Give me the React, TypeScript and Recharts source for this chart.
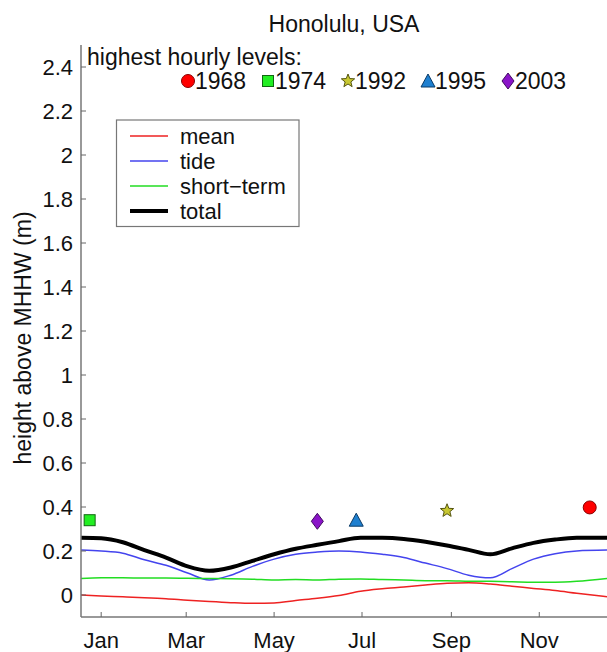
import React from "react";
import {
  ComposedChart,
  Line,
  Scatter,
  XAxis,
  YAxis,
} from "recharts";

// day of year samples
const days = [1, 15, 30, 45, 60, 75, 90, 105, 120, 135, 150, 165, 180, 195, 210, 225, 240, 255, 270, 285, 300, 315, 330, 345, 366];
const meanLevel = [0, -0.004, -0.008, -0.012, -0.017, -0.024, -0.03, -0.035, -0.038, -0.036, -0.025, -0.015, -0.002, 0.017, 0.028, 0.036, 0.045, 0.053, 0.056, 0.05, 0.04, 0.03, 0.02, 0.008, -0.008];
const tideLevel = [0.204, 0.2, 0.19, 0.16, 0.135, 0.1, 0.068, 0.09, 0.13, 0.163, 0.185, 0.195, 0.2, 0.196, 0.185, 0.17, 0.145, 0.12, 0.09, 0.078, 0.12, 0.163, 0.188, 0.2, 0.204];
const shortTerm = [0.075, 0.078, 0.078, 0.077, 0.077, 0.076, 0.075, 0.074, 0.072, 0.068, 0.07, 0.068, 0.072, 0.073, 0.07, 0.068, 0.065, 0.065, 0.063, 0.062, 0.06, 0.058, 0.058, 0.062, 0.075];
const totalLevel = [0.26, 0.258, 0.24, 0.204, 0.17, 0.13, 0.11, 0.125, 0.155, 0.185, 0.21, 0.228, 0.245, 0.26, 0.26, 0.255, 0.242, 0.225, 0.205, 0.185, 0.212, 0.237, 0.252, 0.26, 0.26];

// highest hourly levels
const eventYears = ["1968", "1974", "1992", "1995", "2003"];
const eventDays = [354, 7, 255, 192, 165];
const eventLevels = [0.398, 0.34, 0.383, 0.34, 0.335];

const monthTicks = [15, 74, 135, 196, 258, 319];
const monthLabels = ["Jan", "Mar", "May", "Jul", "Sep", "Nov"];
const yTicks = [0, 0.2, 0.4, 0.6, 0.8, 1, 1.2, 1.4, 1.6, 1.8, 2, 2.2, 2.4];

const FONT = "'Liberation Sans', Arial, Helvetica, sans-serif";

const markerStyle: Record<string, { fill: string; stroke: string; kind: string }> = {
  "1968": { fill: "#ff0000", stroke: "#8a0000", kind: "circle" },
  "1974": { fill: "#22ee22", stroke: "#116611", kind: "square" },
  "1992": { fill: "#c8c832", stroke: "#555511", kind: "star" },
  "1995": { fill: "#1f80d0", stroke: "#0b3a66", kind: "triangle" },
  "2003": { fill: "#8a14c8", stroke: "#3f0a5e", kind: "diamond" },
};

function Marker({ kind, cx, cy, fill, stroke }: any) {
  if (kind === "circle") return <circle cx={cx} cy={cy} r={6.5} fill={fill} stroke={stroke} strokeWidth={1} />;
  if (kind === "square") return <rect x={cx - 5.5} y={cy - 5.5} width={11} height={11} fill={fill} stroke={stroke} strokeWidth={1} />;
  if (kind === "triangle")
    return <polygon points={`${cx},${cy - 7} ${cx + 7},${cy + 6} ${cx - 7},${cy + 6}`} fill={fill} stroke={stroke} strokeWidth={1} />;
  if (kind === "diamond")
    return <polygon points={`${cx},${cy - 8} ${cx + 6},${cy} ${cx},${cy + 8} ${cx - 6},${cy}`} fill={fill} stroke={stroke} strokeWidth={1} />;
  const pts: string[] = [];
  for (let i = 0; i < 10; i++) {
    const r = i % 2 === 0 ? 7 : 3;
    const a = -Math.PI / 2 + (i * Math.PI) / 5;
    pts.push(`${cx + r * Math.cos(a)},${cy + r * Math.sin(a)}`);
  }
  return <polygon points={pts.join(" ")} fill={fill} stroke={stroke} strokeWidth={1} />;
}

const lineData = days.map((d, i) => ({
  day: d,
  mean: meanLevel[i],
  tide: tideLevel[i],
  short: shortTerm[i],
  total: totalLevel[i],
}));

const eventData = eventYears.map((y, i) => ({ year: y, day: eventDays[i], level: eventLevels[i] }));

const YTick = (props: any) => {
  const { x, y, payload } = props;
  return (
    <g>
      <line x1={x} y1={y} x2={x + 5} y2={y} stroke="#666" />
      <text x={x - 8} y={y} dy={8} textAnchor="end" fontSize={22} fontFamily={FONT} fill="#111">
        {payload.value}
      </text>
    </g>
  );
};

const XTick = (props: any) => {
  const { x, y, payload } = props;
  const idx = monthTicks.indexOf(payload.value);
  return (
    <g>
      <line x1={x} y1={y} x2={x} y2={y - 5} stroke="#666" />
      <text x={x} y={y + 31} textAnchor="middle" fontSize={22} fontFamily={FONT} fill="#111">
        {monthLabels[idx]}
      </text>
    </g>
  );
};

const legendRows = [
  { name: "mean", color: "#ee2222", w: 1.5 },
  { name: "tide", color: "#4444ee", w: 1.5 },
  { name: "short\u2212term", color: "#22dd22", w: 1.5 },
  { name: "total", color: "#000", w: 4 },
];

export default function App() {
  return (
    <div style={{ position: "absolute", left: 0, top: 0, width: 607, height: 652, background: "#fff", overflow: "hidden" }}>
      <ComposedChart width={607} height={652} data={lineData} margin={{ top: 45, right: 0, bottom: 0, left: 0 }}>
        <XAxis
          dataKey="day"
          type="number"
          domain={[1, 366]}
          ticks={monthTicks}
          tick={<XTick />}
          tickSize={0}
          tickMargin={0}
          height={35}
          axisLine={{ stroke: "#777", strokeWidth: 1.5 }}
          allowDataOverflow
        />
        <YAxis
          type="number"
          domain={[-0.1, 2.5]}
          ticks={yTicks}
          tick={<YTick />}
          tickSize={0}
          tickMargin={0}
          width={81}
          axisLine={{ stroke: "#777", strokeWidth: 1.5 }}
          allowDataOverflow
        />
        <Line type="monotone" dataKey="mean" stroke="#ee2222" strokeWidth={1.5} dot={false} isAnimationActive={false} />
        <Line type="monotone" dataKey="tide" stroke="#4444ee" strokeWidth={1.5} dot={false} isAnimationActive={false} />
        <Line type="monotone" dataKey="short" stroke="#22dd22" strokeWidth={1.5} dot={false} isAnimationActive={false} />
        <Line type="monotone" dataKey="total" stroke="#000" strokeWidth={4} dot={false} isAnimationActive={false} />
        <Scatter
          data={eventData}
          dataKey="level"
          isAnimationActive={false}
          shape={(p: any) => {
            const s = markerStyle[p.payload.year];
            return <Marker kind={s.kind} cx={p.cx} cy={p.cy} fill={s.fill} stroke={s.stroke} />;
          }}
        />
      </ComposedChart>

      <svg width={607} height={652} style={{ position: "absolute", left: 0, top: 0, pointerEvents: "none" }}>
        <text x={344} y={32} textAnchor="middle" fontSize={23} fontFamily={FONT} fill="#111">
          Honolulu, USA
        </text>
        <text
          transform="translate(31,338) rotate(-90)"
          textAnchor="middle"
          fontSize={23}
          fontFamily={FONT}
          fill="#111"
        >
          height above MHHW (m)
        </text>
        <text x={87} y={65} fontSize={23} fontFamily={FONT} fill="#111">
          highest hourly levels:
        </text>
        {eventYears.map((y, i) => {
          const cx = 188 + i * 80;
          const s = markerStyle[y];
          return (
            <g key={y}>
              <Marker kind={s.kind} cx={cx} cy={81} fill={s.fill} stroke={s.stroke} />
              <text x={cx + 7} y={89} fontSize={23} fontFamily={FONT} fill="#111">
                {y}
              </text>
            </g>
          );
        })}
        <rect x={116.5} y={120} width={182.5} height={106.5} fill="#fff" stroke="#777" strokeWidth={1.2} />
        {legendRows.map((r, i) => {
          const cy = 136 + i * 25;
          return (
            <g key={r.name}>
              <line x1={130} y1={cy} x2={168} y2={cy} stroke={r.color} strokeWidth={r.w} />
              <text x={180} y={cy + 8} fontSize={22} fontFamily={FONT} fill="#111">
                {r.name}
              </text>
            </g>
          );
        })}
      </svg>
    </div>
  );
}
